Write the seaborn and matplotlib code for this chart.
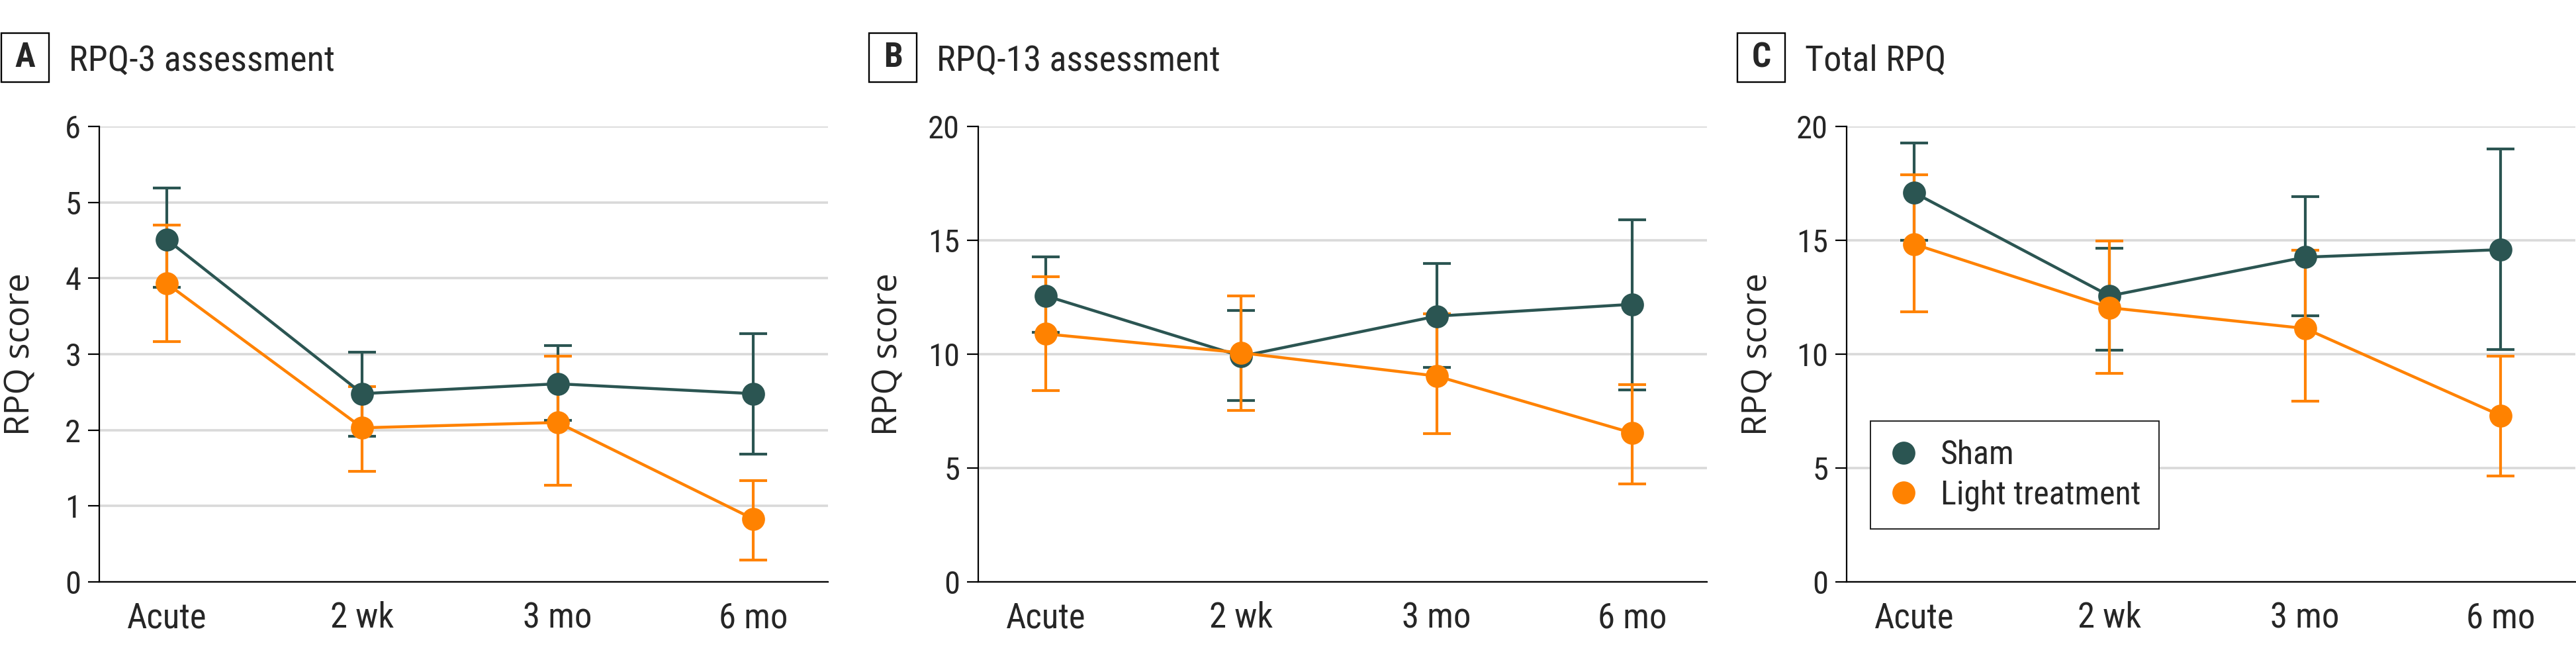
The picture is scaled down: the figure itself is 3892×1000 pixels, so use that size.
"""
RPQ scores over time: sham vs light treatment (3 panels)
"""

import numpy as np
import pandas as pd
import matplotlib
matplotlib.use('Agg')
import matplotlib.pyplot as plt
import seaborn as sns
from matplotlib import font_manager as fm
from matplotlib.lines import Line2D
from matplotlib.patches import Rectangle

# ---- data ----
timepoints = ['Acute', '2 wk', '3 mo', '6 mo']
groups = ['Sham', 'Light treatment']
panel_letters = ['A', 'B', 'C']
panel_titles = ['RPQ-3 assessment', 'RPQ-13 assessment', 'Total RPQ']
y_max = [6, 20, 20]
y_step = [1, 5, 5]

# RPQ-3
rpq3_sham = [4.51, 2.48, 2.61, 2.48]
rpq3_sham_lo = [3.88, 1.92, 2.13, 1.68]
rpq3_sham_hi = [5.19, 3.03, 3.11, 3.27]
rpq3_light = [3.93, 2.03, 2.10, 0.83]
rpq3_light_lo = [3.17, 1.46, 1.27, 0.29]
rpq3_light_hi = [4.70, 2.57, 2.97, 1.33]

# RPQ-13
rpq13_sham = [12.56, 9.91, 11.67, 12.19]
rpq13_sham_lo = [10.96, 7.96, 9.43, 8.44]
rpq13_sham_hi = [14.28, 11.91, 13.98, 15.91]
rpq13_light = [10.89, 10.06, 9.04, 6.54]
rpq13_light_lo = [8.41, 7.54, 6.50, 4.31]
rpq13_light_hi = [13.41, 12.57, 11.76, 8.65]

# Total RPQ
total_sham = [17.09, 12.56, 14.26, 14.59]
total_sham_lo = [15.00, 10.17, 11.70, 10.19]
total_sham_hi = [19.26, 14.65, 16.91, 19.02]
total_light = [14.83, 12.04, 11.13, 7.31]
total_light_lo = [11.87, 9.15, 7.93, 4.65]
total_light_hi = [17.89, 14.96, 14.56, 9.91]

colors = {'Sham': '#2b5552', 'Light treatment': '#ff8200'}

# ---- fonts ----
def pick_font_path(weight='normal'):
    tries = [('Noto Sans', 'semi-condensed'), ('Noto Sans SemiCondensed', 'normal'),
             ('Noto Sans', 'condensed'), ('Noto Sans Condensed', 'normal'),
             ('Roboto Condensed', 'normal'), ('Liberation Sans Narrow', 'normal'),
             ('DejaVu Sans', 'condensed')]
    for fam, stretch in tries:
        try:
            path = fm.findfont(fm.FontProperties(family=fam, stretch=stretch, weight=weight),
                               fallback_to_default=False)
        except ValueError:
            continue
        if 'ond' in path or 'arrow' in path:
            return path
    return fm.findfont(fm.FontProperties(family='Noto Sans', weight=weight))

reg_path = pick_font_path('normal')
bold_path = pick_font_path('bold')

def fp(size, bold=False):
    return fm.FontProperties(fname=bold_path if bold else reg_path, size=size)

sns.set_theme(style='white')
plt.rcParams['font.family'] = ['Noto Sans', 'DejaVu Sans']

W, H = 3892, 1000
fig = plt.figure(figsize=(W / 100, H / 100), dpi=100)

ax_left_px = [150, 1478, 2790]
box_left_px = [2, 1313, 2625]
ylabel_x_px = [31, 1342, 2656]
ax_w_px = 1101
ax_bottom, ax_h = 121 / H, 688 / H

panels = [
    (rpq3_sham, rpq3_sham_lo, rpq3_sham_hi, rpq3_light, rpq3_light_lo, rpq3_light_hi),
    (rpq13_sham, rpq13_sham_lo, rpq13_sham_hi, rpq13_light, rpq13_light_lo, rpq13_light_hi),
    (total_sham, total_sham_lo, total_sham_hi, total_light, total_light_lo, total_light_hi),
]

pos = np.arange(len(timepoints))

for i, (s, s_lo, s_hi, l, l_lo, l_hi) in enumerate(panels):
    ax = fig.add_axes([ax_left_px[i] / W, ax_bottom, ax_w_px / W, ax_h])

    df = pd.DataFrame({
        'pos': np.concatenate([pos, pos]),
        'score': s + l,
        'group': [groups[0]] * len(pos) + [groups[1]] * len(pos),
    })

    # error bars first (under the points)
    for mean, lo, hi, g in [(s, s_lo, s_hi, groups[0]), (l, l_lo, l_hi, groups[1])]:
        mean, lo, hi = np.array(mean), np.array(lo), np.array(hi)
        ax.errorbar(pos, mean, yerr=[mean - lo, hi - mean], fmt='none',
                    ecolor=colors[g], elinewidth=3.0, capsize=15, capthick=3.0, zorder=2)

    sns.lineplot(data=df, x='pos', y='score', hue='group', hue_order=groups,
                 palette=colors, marker='o', markersize=25, markeredgewidth=0,
                 linewidth=3.2, legend=False, ax=ax, zorder=3)

    ax.set_xlim(-0.346, 3.383)
    ax.set_ylim(0, y_max[i])
    ax.set_yticks(np.arange(0, y_max[i] + 0.1, y_step[i]))
    ax.set_xticks(pos)
    ax.set_xticklabels(timepoints)
    ax.set_xlabel('')
    ax.set_ylabel('')
    for lbl in ax.get_xticklabels():
        lbl.set_fontproperties(fp(38))
    for lbl in ax.get_yticklabels():
        lbl.set_fontproperties(fp(35))

    ax.yaxis.grid(True, color='#d9d9d9', linewidth=2.6)
    ax.xaxis.grid(False)
    ax.set_axisbelow(True)
    for side in ['top', 'right']:
        ax.spines[side].set_visible(False)
    for side in ['left', 'bottom']:
        ax.spines[side].set_color('black')
        ax.spines[side].set_linewidth(1.6)
    ax.tick_params(axis='y', left=True, length=12, width=1.6, pad=8, color='black')
    ax.tick_params(axis='x', bottom=False, length=0, pad=21)

    fig.text(ylabel_x_px[i] / W, (H - 535) / H, 'RPQ score', rotation=90,
             ha='center', va='center', fontsize=37, family=['Open Sans', 'DejaVu Sans'])

    # panel letter box + title
    bx = box_left_px[i]
    fig.patches.append(Rectangle((bx / W, (H - 124) / H), 72 / W, 74 / H,
                                 transform=fig.transFigure, fill=False,
                                 edgecolor='black', linewidth=1.7))
    fig.text((bx + 36) / W, (H - 87) / H, panel_letters[i], ha='center', va='center',
             fontproperties=fp(37, bold=True))
    fig.text((bx + 102) / W, (H - 107) / H, panel_titles[i], ha='left', va='baseline',
             fontproperties=fp(39))

    if i == 2:
        handles = [Line2D([], [], marker='o', linestyle='none', markersize=25,
                          markeredgewidth=0, color=colors[g]) for g in groups]
        leg = ax.legend(handles, groups, loc='lower left', bbox_to_anchor=(0.0327, 0.116),
                        borderaxespad=0, prop=fp(36), frameon=True, fancybox=False,
                        framealpha=1, edgecolor='#222222', borderpad=0.55,
                        handlelength=0.9, handletextpad=0.66, labelspacing=0.24)
        leg.get_frame().set_linewidth(1.4)

fig.savefig('out.png', dpi=100)
